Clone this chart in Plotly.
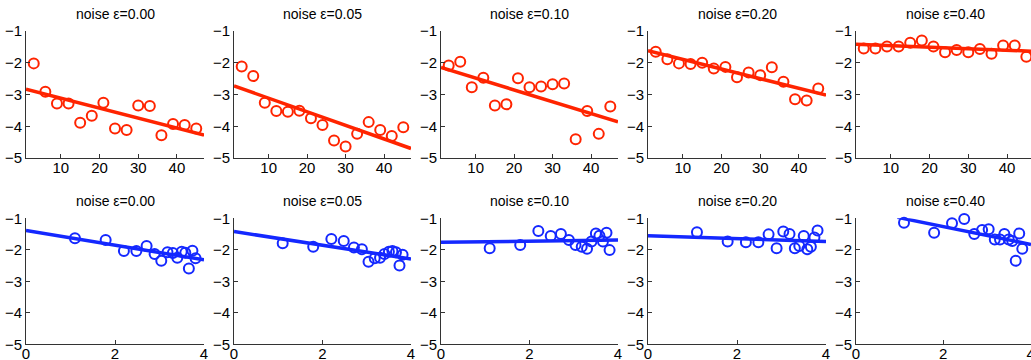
import plotly.graph_objects as go

# ---------------- data ----------------
noise_labels = ["noise ε=0.00", "noise ε=0.05", "noise ε=0.10", "noise ε=0.20", "noise ε=0.40"]

top_x = [3, 6, 9, 12, 15, 18, 21, 24, 27, 30, 33, 36, 39, 42, 45]
top_y_e000 = [-2.02, -2.91, -3.28, -3.28, -3.89, -3.67, -3.26, -4.07, -4.12, -3.35, -3.36, -4.28, -3.93, -3.96, -4.07]
top_y_e005 = [-2.12, -2.42, -3.26, -3.52, -3.54, -3.51, -3.75, -3.96, -4.45, -4.64, -4.24, -3.87, -4.12, -4.31, -4.03]
top_y_e010 = [-2.09, -1.97, -2.77, -2.47, -3.35, -3.31, -2.49, -2.77, -2.75, -2.68, -2.65, -4.41, -3.52, -4.24, -3.38]
top_y_e020 = [-1.65, -1.89, -2.02, -2.04, -2.00, -2.18, -2.13, -2.46, -2.31, -2.39, -2.14, -2.60, -3.15, -3.19, -2.81]
top_y_e040 = [-1.55, -1.55, -1.49, -1.49, -1.37, -1.30, -1.49, -1.67, -1.60, -1.67, -1.57, -1.72, -1.46, -1.46, -1.81]

# fitted lines (x endpoints, y endpoints)
top_fit_x = [1, 47]
top_fit_e000 = [-2.83, -4.28]
top_fit_e005 = [-2.73, -4.70]
top_fit_e010 = [-2.15, -3.86]
top_fit_e020 = [-1.62, -3.02]
top_fit_e040 = [-1.42, -1.64]

bot_x = [1.10, 1.79, 2.20, 2.48, 2.71, 2.89, 3.04, 3.18, 3.30, 3.40, 3.50, 3.58, 3.66, 3.74, 3.81]
bot_y_e000 = [-1.63, -1.69, -2.04, -2.04, -1.88, -2.13, -2.35, -2.08, -2.10, -2.25, -2.06, -2.09, -2.59, -2.03, -2.27]
bot_y_e005 = [-1.79, -1.90, -1.66, -1.72, -1.93, -1.98, -2.38, -2.27, -2.25, -2.13, -2.06, -2.04, -2.08, -2.50, -2.16]
bot_y_e010 = [-1.95, -1.85, -1.40, -1.56, -1.50, -1.69, -1.85, -1.90, -1.97, -1.74, -1.48, -1.55, -1.74, -1.46, -2.01]
bot_y_e020 = [-1.44, -1.74, -1.76, -1.76, -1.51, -1.95, -1.42, -1.50, -1.95, -1.88, -1.56, -1.98, -1.90, -1.61, -1.39]
bot_y_e040 = [-1.14, -1.46, -1.16, -1.02, -1.50, -1.37, -1.35, -1.67, -1.67, -1.50, -1.67, -1.72, -2.35, -1.48, -1.97]

bot_fit_x = [[0, 4], [0, 4], [0, 4], [0, 4], [0.95, 4.01]]
bot_fit_e000 = [-1.39, -2.32]
bot_fit_e005 = [-1.42, -2.29]
bot_fit_e010 = [-1.76, -1.69]
bot_fit_e020 = [-1.55, -1.74]
bot_fit_e040 = [-0.97, -1.83]

y_ticks = [-1, -2, -3, -4, -5]
top_x_ticks = [10, 20, 30, 40]
bot_x_ticks = [0, 2, 4]

top_ys = [top_y_e000, top_y_e005, top_y_e010, top_y_e020, top_y_e040]
top_fits = [top_fit_e000, top_fit_e005, top_fit_e010, top_fit_e020, top_fit_e040]
bot_ys = [bot_y_e000, bot_y_e005, bot_y_e010, bot_y_e020, bot_y_e040]
bot_fits = [bot_fit_e000, bot_fit_e005, bot_fit_e010, bot_fit_e020, bot_fit_e040]

# ---------------- layout ----------------
W, H = 1031, 360
RED = "rgb(255,36,0)"
BLUE = "rgb(20,40,255)"
FONT = "Liberation Sans, Arial, sans-serif"

col_px = [(26, 204), (234, 411), (441, 618), (648, 826), (856, 1031)]
top_xrange = [[1, 47]] * 4 + [[1, 46.2]]
bot_xrange = [[0, 4]] * 4 + [[0, 4.01]]
top_dom_y = [1 - 158 / H, 1 - 31 / H]
bot_dom_y = [1 - 344.3 / H, 1 - 218.3 / H]

fig = go.Figure()
layout = dict(
    width=W, height=H, margin=dict(l=0, r=0, t=0, b=0, pad=0, autoexpand=False),
    paper_bgcolor="white", plot_bgcolor="white", showlegend=False,
    font=dict(family=FONT, size=15, color="black"),
)
annotations = []

def axis_common():
    return dict(showgrid=False, zeroline=False, showline=True, linecolor="#333333",
                linewidth=1, ticks="inside", ticklen=4, tickcolor="#333333",
                mirror=False, automargin=False, ticklabeloverflow="allow",
                tickfont=dict(family=FONT, size=15, color="black"))

for i in range(5):
    for row in range(2):
        k = row * 5 + i + 1
        xa = "x" if k == 1 else f"x{k}"
        ya = "y" if k == 1 else f"y{k}"
        if row == 0:
            xs, ys, fx, fy, col = top_x, top_ys[i], top_fit_x, top_fits[i], RED
            xr, xt, dy = top_xrange[i], top_x_ticks, top_dom_y
            title_y = 1 - 14 / H
        else:
            xs, ys, fx, fy, col = bot_x, bot_ys[i], bot_fit_x[i], bot_fits[i], BLUE
            xr, xt, dy = bot_xrange[i], bot_x_ticks, bot_dom_y
            title_y = 1 - 200.5 / H
        fig.add_trace(go.Scatter(x=fx, y=fy, mode="lines", line=dict(color=col, width=3.5),
                                 xaxis=xa, yaxis=ya, cliponaxis=True))
        fig.add_trace(go.Scatter(x=xs, y=ys, mode="markers",
                                 marker=dict(symbol="circle-open", size=10, color=col,
                                             line=dict(width=2, color=col)),
                                 xaxis=xa, yaxis=ya, cliponaxis=False))
        x0, x1 = col_px[i]
        xd = dict(axis_common(), domain=[x0 / W, x1 / W], range=xr, tickvals=xt,
                  anchor=ya, ticklabelstandoff=-4)
        yd = dict(axis_common(), domain=dy, range=[-5, -1], tickvals=y_ticks, anchor=xa)
        layout["xaxis" if k == 1 else f"xaxis{k}"] = xd
        layout["yaxis" if k == 1 else f"yaxis{k}"] = yd
        cx = (x0 + (x1 if i < 4 else 1035)) / 2 / W
        annotations.append(dict(text=noise_labels[i], x=min(cx, 0.99), y=title_y,
                                xref="paper", yref="paper", showarrow=False,
                                xanchor="center", yanchor="middle",
                                font=dict(family=FONT, size=14, color="black")))

layout["annotations"] = annotations
fig.update_layout(**layout)
fig.write_html("out.html",
               config={"displayModeBar": False},
               post_script="document.body.style.margin='0';document.body.style.overflow='hidden';")
